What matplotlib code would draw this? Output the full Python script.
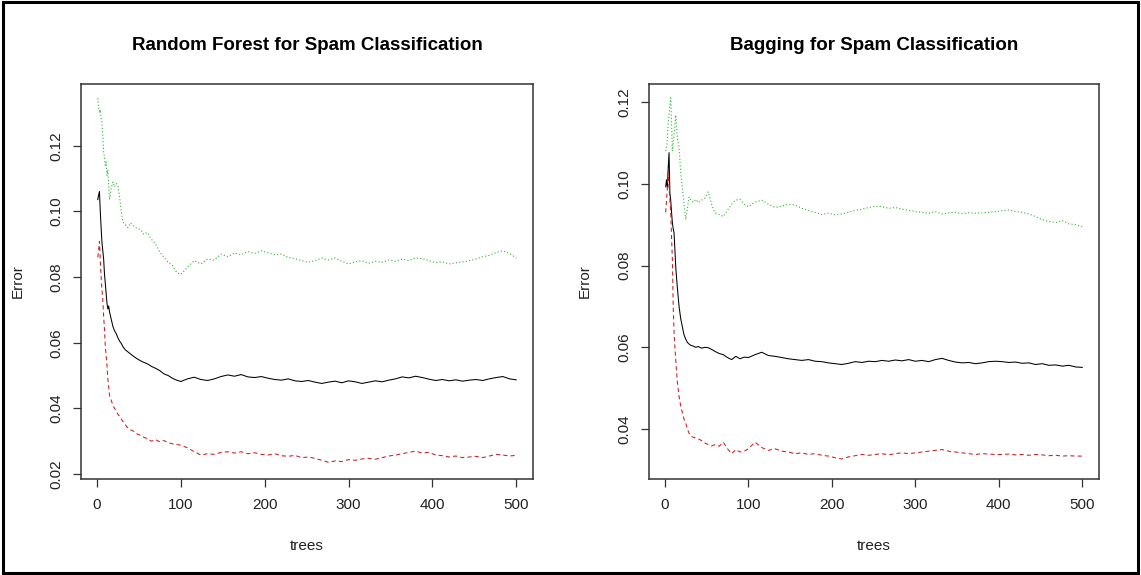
import numpy as np
from matplotlib import pyplot as plt
from matplotlib.patches import Rectangle

plt.rcParams['font.family'] = ['Liberation Sans', 'DejaVu Sans']

# number of trees at which the error was recorded
trees = np.array([1, 2, 3, 4, 5, 6, 7, 8, 9, 10, 11, 12, 13, 14, 15,
                  17, 19, 21, 23, 25, 27, 29, 31, 34, 37, 40,
                  44, 48, 52, 56, 60, 65, 70, 75, 80, 85, 90, 95, 100,
                  108, 116, 124, 132, 140, 148, 156, 164, 172, 180,
                  188, 196, 204, 212, 220, 228, 236, 244, 252, 260,
                  268, 276, 284, 292, 300, 308, 316, 324, 332, 340,
                  348, 356, 364, 372, 380, 388, 396, 404, 412, 420,
                  428, 436, 444, 452, 460, 468, 476, 484, 492, 500])

# random forest: OOB, class 0, class 1
rf_oob = [0.1036, 0.1050, 0.1060, 0.1000, 0.0950, 0.0905, 0.0880, 0.0855, 0.0810, 0.0780,
          0.0750, 0.0720, 0.0703, 0.0712, 0.0694, 0.0672, 0.0650, 0.0636, 0.0628, 0.0615,
          0.0605, 0.0598, 0.0588, 0.0578, 0.0572, 0.0566, 0.0558, 0.0551, 0.0545, 0.0540,
          0.0536, 0.0528, 0.0522, 0.0515, 0.0505, 0.0500, 0.0492, 0.0486, 0.0482,
          0.0490, 0.0495, 0.0488, 0.0485, 0.0490, 0.0497, 0.0502, 0.0498, 0.0503, 0.0496,
          0.0494, 0.0497, 0.0492, 0.0488, 0.0486, 0.0490, 0.0484, 0.0482, 0.0485, 0.0480,
          0.0476, 0.0480, 0.0483, 0.0478, 0.0484, 0.0481, 0.0476, 0.0480, 0.0484, 0.0481,
          0.0486, 0.0490, 0.0496, 0.0493, 0.0498, 0.0494, 0.0489, 0.0485, 0.0488, 0.0484,
          0.0487, 0.0483, 0.0486, 0.0488, 0.0485, 0.0490, 0.0494, 0.0497, 0.0490, 0.0487]
rf_c0 = [0.0860, 0.0880, 0.0909, 0.0850, 0.0800, 0.0760, 0.0730, 0.0680, 0.0640, 0.0590,
         0.0560, 0.0530, 0.0490, 0.0465, 0.0440, 0.0425, 0.0410, 0.0400, 0.0392, 0.0382,
         0.0376, 0.0368, 0.0360, 0.0350, 0.0340, 0.0335, 0.0330, 0.0322, 0.0318, 0.0312,
         0.0308, 0.0300, 0.0305, 0.0298, 0.0302, 0.0296, 0.0292, 0.0290, 0.0288,
         0.0280, 0.0268, 0.0258, 0.0262, 0.0260, 0.0266, 0.0268, 0.0264, 0.0268, 0.0262,
         0.0265, 0.0260, 0.0258, 0.0262, 0.0256, 0.0254, 0.0257, 0.0250, 0.0252, 0.0248,
         0.0242, 0.0236, 0.0240, 0.0238, 0.0244, 0.0242, 0.0246, 0.0248, 0.0245, 0.0250,
         0.0255, 0.0258, 0.0262, 0.0266, 0.0270, 0.0264, 0.0266, 0.0258, 0.0256, 0.0252,
         0.0255, 0.0250, 0.0252, 0.0254, 0.0250, 0.0255, 0.0260, 0.0258, 0.0255, 0.0257]
rf_c1 = [0.1345, 0.1320, 0.1300, 0.1310, 0.1285, 0.1270, 0.1227, 0.1180, 0.1165, 0.1140,
         0.1150, 0.1110, 0.1127, 0.1080, 0.1036, 0.1070, 0.1090, 0.1075, 0.1085, 0.1080,
         0.1045, 0.1000, 0.0967, 0.0960, 0.0950, 0.0965, 0.0955, 0.0948, 0.0945, 0.0930,
         0.0936, 0.0915, 0.0900, 0.0876, 0.0860, 0.0845, 0.0835, 0.0815, 0.0808,
         0.0830, 0.0850, 0.0840, 0.0855, 0.0852, 0.0870, 0.0862, 0.0873, 0.0868, 0.0878,
         0.0872, 0.0880, 0.0874, 0.0868, 0.0870, 0.0860, 0.0856, 0.0850, 0.0845, 0.0850,
         0.0858, 0.0852, 0.0858, 0.0848, 0.0840, 0.0846, 0.0850, 0.0842, 0.0848, 0.0845,
         0.0852, 0.0848, 0.0855, 0.0850, 0.0858, 0.0856, 0.0850, 0.0844, 0.0846, 0.0840,
         0.0843, 0.0846, 0.0850, 0.0855, 0.0862, 0.0866, 0.0875, 0.0880, 0.0872, 0.0858]

# bagging: OOB, class 0, class 1
bag_oob = [0.0993, 0.1010, 0.0990, 0.1040, 0.1076, 0.0978, 0.0960, 0.0930, 0.0905, 0.0890,
           0.0880, 0.0840, 0.0798, 0.0770, 0.0745, 0.0700, 0.0670, 0.0650, 0.0630, 0.0620,
           0.0612, 0.0608, 0.0605, 0.0603, 0.0600, 0.0602, 0.0598, 0.0600, 0.0599, 0.0595,
           0.0590, 0.0585, 0.0582, 0.0575, 0.0570, 0.0578, 0.0572, 0.0576, 0.0575,
           0.0582, 0.0588, 0.0580, 0.0578, 0.0575, 0.0572, 0.0570, 0.0568, 0.0570, 0.0566,
           0.0565, 0.0562, 0.0560, 0.0558, 0.0561, 0.0565, 0.0563, 0.0566, 0.0565, 0.0568,
           0.0566, 0.0569, 0.0567, 0.0570, 0.0566, 0.0568, 0.0565, 0.0570, 0.0573, 0.0568,
           0.0564, 0.0562, 0.0563, 0.0560, 0.0562, 0.0565, 0.0566, 0.0565, 0.0563, 0.0564,
           0.0561, 0.0562, 0.0558, 0.0560, 0.0556, 0.0557, 0.0554, 0.0556, 0.0552, 0.0551]
bag_c0 = [0.0930, 0.0960, 0.0990, 0.1027, 0.0990, 0.0960, 0.0930, 0.0870, 0.0815, 0.0700,
          0.0636, 0.0600, 0.0570, 0.0540, 0.0515, 0.0480, 0.0456, 0.0440, 0.0424, 0.0415,
          0.0400, 0.0390, 0.0383, 0.0380, 0.0378, 0.0376, 0.0372, 0.0366, 0.0362, 0.0359,
          0.0362, 0.0358, 0.0368, 0.0352, 0.0340, 0.0350, 0.0344, 0.0346, 0.0352,
          0.0368, 0.0355, 0.0348, 0.0352, 0.0346, 0.0344, 0.0340, 0.0342, 0.0338, 0.0340,
          0.0336, 0.0334, 0.0330, 0.0327, 0.0332, 0.0335, 0.0338, 0.0336, 0.0338, 0.0340,
          0.0337, 0.0340, 0.0342, 0.0340, 0.0342, 0.0344, 0.0346, 0.0348, 0.0350, 0.0346,
          0.0344, 0.0342, 0.0340, 0.0338, 0.0340, 0.0339, 0.0338, 0.0338, 0.0339, 0.0337,
          0.0338, 0.0336, 0.0338, 0.0337, 0.0335, 0.0336, 0.0334, 0.0335, 0.0334, 0.0334]
bag_c1 = [0.1080, 0.1090, 0.1110, 0.1150, 0.1170, 0.1190, 0.1210, 0.1150, 0.1080, 0.1100,
          0.1120, 0.1140, 0.1168, 0.1140, 0.1110, 0.1090, 0.1027, 0.0990, 0.0950, 0.0912,
          0.0940, 0.0968, 0.0960, 0.0955, 0.0962, 0.0954, 0.0960, 0.0965, 0.0980, 0.0950,
          0.0929, 0.0925, 0.0920, 0.0935, 0.0950, 0.0960, 0.0962, 0.0950, 0.0944,
          0.0955, 0.0960, 0.0950, 0.0942, 0.0945, 0.0950, 0.0948, 0.0940, 0.0935, 0.0930,
          0.0925, 0.0928, 0.0924, 0.0926, 0.0930, 0.0935, 0.0938, 0.0942, 0.0945, 0.0944,
          0.0940, 0.0942, 0.0938, 0.0935, 0.0932, 0.0930, 0.0928, 0.0932, 0.0926, 0.0929,
          0.0930, 0.0927, 0.0929, 0.0928, 0.0929, 0.0930, 0.0932, 0.0934, 0.0936, 0.0932,
          0.0930, 0.0926, 0.0920, 0.0912, 0.0908, 0.0905, 0.0910, 0.0902, 0.0900, 0.0895]

W, H = 1141, 575
fig = plt.figure(figsize=(W / 100, H / 100), dpi=100)
fig.patches.append(Rectangle((0.003, 0.003), 0.994, 0.994, transform=fig.transFigure,
                             fill=False, edgecolor='black', linewidth=2.2))

def panel(left, right, title, oob, c0, c1, ylim, yticks):
	top, bottom = 84, 479
	ax = fig.add_axes([left / W, 1 - bottom / H, (right - left) / W, (bottom - top) / H])
	ax.plot(trees, oob, color='black', lw=0.75)
	ax.plot(trees, c0, color='#d01c1c', lw=0.75, dashes=(4, 3))
	ax.plot(trees, c1, color='#2cb52c', lw=0.8, dashes=(1, 2))
	ax.set_xlim(-19, 520)
	ax.set_ylim(*ylim)
	ax.set_xticks([0, 100, 200, 300, 400, 500])
	ax.set_yticks(yticks)
	ax.set_yticklabels(['%.2f' % v for v in yticks], rotation=90, va='center')
	ax.tick_params(direction='out', length=5.5, width=0.9, color='#333333',
	               labelsize=11, labelcolor='#222222')
	ax.tick_params(axis='x', pad=8)
	ax.tick_params(axis='y', pad=7)
	for s in ax.spines.values():
		s.set_linewidth(1.1)
		s.set_color('#333333')
	ax.set_xlabel('trees', fontsize=11, color='#222222')
	ax.xaxis.set_label_coords(0.5, -0.17)
	ax.xaxis.label.set_va('center')
	ax.set_ylabel('Error', fontsize=11, color='#222222')
	ax.yaxis.set_label_coords((18 - left) / (right - left), 0.5)
	ax.yaxis.label.set_va('center')
	ax.text(0.5, 1 + 38 / (bottom - top), title, transform=ax.transAxes,
	        ha='center', va='center', fontsize=13.5, fontweight='bold')
	return ax

panel(81, 533, 'Random Forest for Spam Classification', rf_oob, rf_c0, rf_c1,
      (0.0185, 0.1388), [0.02, 0.04, 0.06, 0.08, 0.10, 0.12])
ax2 = panel(649, 1099, 'Bagging for Spam Classification', bag_oob, bag_c0, bag_c1,
            (0.0278, 0.1244), [0.04, 0.06, 0.08, 0.10, 0.12])
ax2.yaxis.set_label_coords((585 - 649) / 450, 0.5)

fig.savefig('out.png', dpi=100)
